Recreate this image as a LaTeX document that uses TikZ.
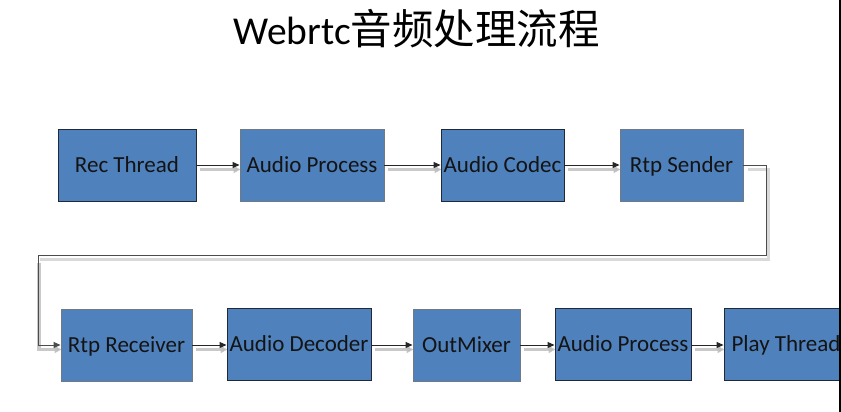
\documentclass[tikz,border=0pt]{standalone}
\usepackage{fontspec}
\setmainfont{Carlito}
\newfontfamily\cjk{Noto Sans CJK SC}
\usetikzlibrary{arrows.meta}
\definecolor{boxblue}{HTML}{4F81BD}
\definecolor{darkedge}{HTML}{1E2A38}
\definecolor{grayedge}{HTML}{707A85}
\pgfdeclarelayer{bg}
\pgfsetlayers{bg,main}
\begin{document}
\begin{tikzpicture}[x=1pt,y=-1pt,
  blk/.style={draw=darkedge, fill=boxblue, line width=0.9pt, minimum height=72pt,
    inner sep=0pt, text height=15.5pt, text depth=0pt, text=black!92,
    font=\fontsize{23}{25}\selectfont},
  gblk/.style={blk, draw=grayedge},
  conn/.style={draw=black!85, line width=1pt, -{Triangle[length=7pt,width=6pt]}},
  sh/.style={draw=black!28, line width=3.5pt, opacity=0.75, shorten <=3pt,
    -{Triangle[length=7pt,width=7pt]},
    transform canvas={xshift=1pt,yshift=-4.5pt}},
  shl/.style={draw=black!15, line width=3pt, shorten <=3pt,
    transform canvas={xshift=2pt,yshift=-4.5pt}}]
\useasboundingbox (0,0) rectangle (841,412);
\begin{pgfonlayer}{bg}
\fill[white] (0,0) rectangle (841,412);
\end{pgfonlayer}
\node[anchor=base] (title) at (416.5,44.5)
  {\fontsize{39.5}{42}\selectfont Webrtc{\cjk\fontsize{41.5}{44}\selectfont 音频处理流程}};
\begin{scope}
\clip (0,0) rectangle (840,412);
% row 1
\node[blk,  minimum width=138pt] (rec)   at (127,165)   {Rec Thread};
\node[gblk, minimum width=144pt] (ap1)   at (312,165)   {Audio Process};
\node[blk,  minimum width=123pt] (codec) at (502.5,165) {Audio Codec};
\node[gblk, minimum width=123pt] (snd)   at (681.5,165) {Rtp Sender};
% row 2
\node[gblk, minimum width=131pt] (rcv)   at (126.5,345) {Rtp Receiver};
\node[blk,  minimum width=144pt] (dec)   at (299,344)   {Audio Decoder};
\node[gblk, minimum width=107pt] (mix)   at (466.5,345) {OutMixer};
\node[blk,  minimum width=136pt] (ap2)   at (623,344)   {Audio Process};
\node[blk,  minimum width=124pt] (play)  at (786,344)   {Play Thread};
\end{scope}
\coordinate (c1) at (766,255);
\coordinate (c2) at (38,255);
% shadows (behind boxes)
\begin{pgfonlayer}{bg}
\draw[sh] (rec.east) -- (ap1.west);
\draw[sh] (ap1.east) -- (codec.west);
\draw[sh] (codec.east) -- (snd.west);
\draw[shl] (snd.east) -| (c1) -- (c2);
\draw[sh] (c2) |- (rcv.west);
\draw[sh] (rcv.east) -- (dec.west |- rcv.east);
\draw[sh] (dec.east |- mix.west) -- (mix.west);
\draw[sh] (mix.east) -- (ap2.west |- mix.east);
\draw[sh] (ap2.east |- mix.east) -- (play.west |- mix.east);
\end{pgfonlayer}
% connectors
\draw[conn] (rec.east) -- (ap1.west);
\draw[conn] (ap1.east) -- (codec.west);
\draw[conn] (codec.east) -- (snd.west);
\draw[conn, draw=black!70] (snd.east) -| (c1) -- (c2) |- (rcv.west);
\draw[conn] (rcv.east) -- (dec.west |- rcv.east);
\draw[conn] (dec.east |- mix.west) -- (mix.west);
\draw[conn] (mix.east) -- (ap2.west |- mix.east);
\draw[conn] (ap2.east |- mix.east) -- (play.west |- mix.east);
\draw[line width=1.6pt, black] (840,0) -- (840,412);
\end{tikzpicture}
\end{document}
